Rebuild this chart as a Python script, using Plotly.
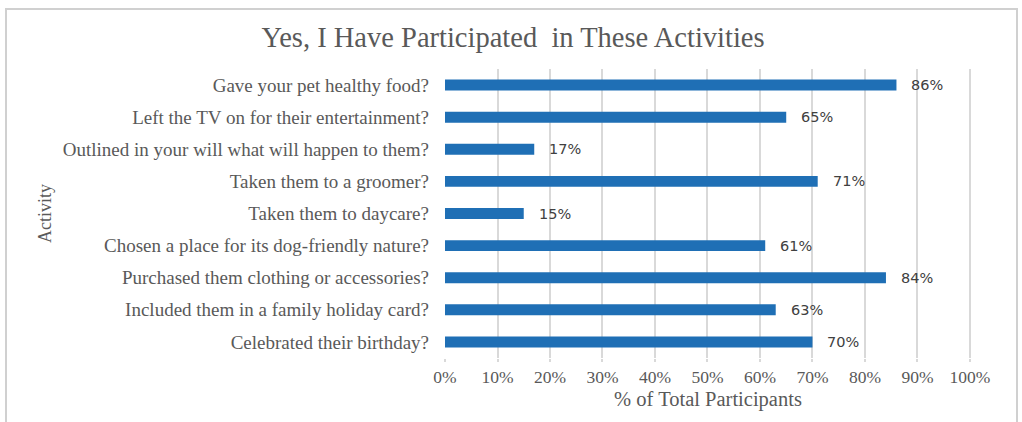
import plotly.graph_objects as go

# Survey activities (top to bottom as displayed) and share of participants
activities = [
    "Gave your pet healthy food?",
    "Left the TV on for their entertainment?",
    "Outlined in your will what will happen to them?",
    "Taken them to a groomer?",
    "Taken them to daycare?",
    "Chosen a place for its dog-friendly nature?",
    "Purchased them clothing or accessories?",
    "Included them in a family holiday card?",
    "Celebrated their birthday?",
]
percent_yes = [86, 65, 17, 71, 15, 61, 84, 63, 70]
tick_values = [0, 10, 20, 30, 40, 50, 60, 70, 80, 90, 100]
tick_labels = [f"{v}%" for v in tick_values]

W, H = 1022, 422
ML, MR, MT, MB = 445, 51, 69, 64
SERIF = "Liberation Serif, Times New Roman, serif"
GREY = "#595959"

fig = go.Figure(
    go.Bar(
        x=percent_yes,
        y=activities,
        orientation="h",
        marker=dict(color="#1f6fb5", line=dict(width=0)),
        hoverinfo="skip",
    )
)

# value labels just past the end of each bar
for act, val in zip(activities, percent_yes):
    fig.add_annotation(
        x=val, y=act, text=f"{val}%", showarrow=False,
        xanchor="left", xshift=13,
        font=dict(family="DejaVu Sans, Verdana, sans-serif", size=14.5, color="#404040"),
    )

# outer frame of the chart, placed in pixels via paper coordinates
pw, ph = W - ML - MR, H - MT - MB
def px_x(p):
    return (p - ML) / pw
def px_y(p):
    return (H - MB - p) / ph

fig.add_shape(
    type="rect", xref="paper", yref="paper",
    x0=px_x(6), x1=px_x(1017), y0=px_y(430), y1=px_y(9),
    line=dict(color="#d0d0d0", width=2), fillcolor="rgba(0,0,0,0)", layer="below",
)

fig.update_layout(
    width=W, height=H,
    margin=dict(l=ML, r=MR, t=MT, b=MB),
    paper_bgcolor="white", plot_bgcolor="white",
    bargap=0.66,
    showlegend=False,
    title=dict(
        text="Yes, I Have Participated  in These Activities",
        x=0.502, xanchor="center", y=1 - 37 / H, yanchor="middle",
        font=dict(family=SERIF, size=28.5, color=GREY),
    ),
    xaxis=dict(
        range=[0, 100.2],
        tickvals=tick_values, ticktext=tick_labels,
        showgrid=True, gridcolor="#d9d9d9", gridwidth=2,
        zeroline=False, showline=False,
        ticks="outside", ticklen=3, tickcolor="#d9d9d9", tickwidth=2,
        tickfont=dict(family=SERIF, size=17.5, color=GREY),
        title=dict(text="% of Total Participants", standoff=5,
                   font=dict(family=SERIF, size=20.5, color=GREY)),
        fixedrange=True,
    ),
    yaxis=dict(
        autorange="reversed",
        showgrid=False, zeroline=False, showline=False,
        ticks="", ticklabelstandoff=15,
        tickfont=dict(family=SERIF, size=19, color=GREY),
        title=dict(text="", font=dict(family=SERIF, size=17, color=GREY)),
        fixedrange=True,
    ),
)

# rotated axis title for the categories
fig.add_annotation(
    text="Activity", xref="paper", yref="paper",
    x=px_x(45), y=px_y(214), showarrow=False, textangle=-90,
    xanchor="center", yanchor="middle",
    font=dict(family=SERIF, size=18, color=GREY),
)

fig.write_html("out.html")
